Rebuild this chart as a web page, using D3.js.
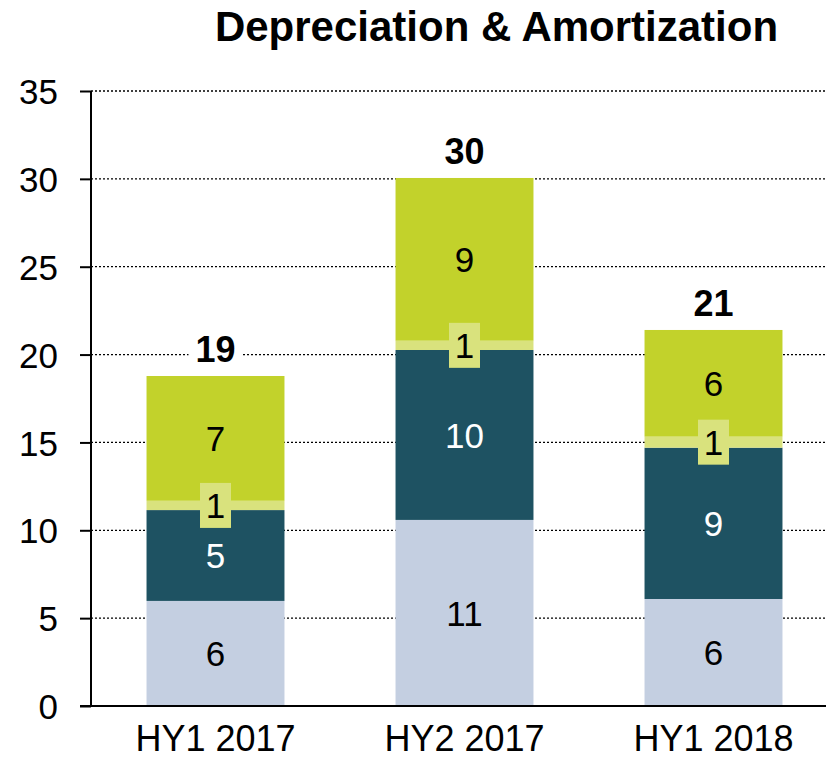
<!DOCTYPE html>
<html><head><meta charset="utf-8">
<script src="https://cdn.jsdelivr.net/npm/d3@7"></script>
<style>body{margin:0;background:#fff}svg{display:block;font-family:"Liberation Sans",Arial,sans-serif}</style>
</head><body><svg id="c" width="826" height="759"></svg>
<script>
const categories = ["HY1 2017", "HY2 2017", "HY1 2018"];
const seriesNames = ["s1", "s2", "s3", "s4"];
const s1Values = [5.98, 10.59, 6.09];
const s2Values = [5.17, 9.67, 8.61];
const s3Values = [0.53, 0.53, 0.63];
const s4Values = [7.10, 9.26, 6.07];
const s1Labels = ["6", "11", "6"];
const s2Labels = ["5", "10", "9"];
const s3Labels = ["1", "1", "1"];
const s4Labels = ["7", "9", "6"];
const totalLabels = ["19", "30", "21"];
const yTicks = [0, 5, 10, 15, 20, 25, 30, 35];
const colors = ["#c4cfe1", "#1e5262", "#d9e27d", "#c2d22b"];
const labelColors = ["#000", "#fff", "#000", "#000"];

const values = [s1Values, s2Values, s3Values, s4Values];
const labels = [s1Labels, s2Labels, s3Labels, s4Labels];
const data = categories.map((c, i) => {
  const o = {cat: c};
  seriesNames.forEach((s, k) => o[s] = values[k][i]);
  return o;
});
const stacked = d3.stack().keys(seriesNames)(data);

const svg = d3.select("#c");
const mLeft = 91, mBottom = 706, mTop = 91;
const x = d3.scaleBand().domain(categories).range([mLeft, mLeft + 3 * 249]).paddingInner(0.446).paddingOuter(0.223);
const y = d3.scaleLinear().domain([0, 35]).range([mBottom, mTop]);

// gridlines
svg.append("g").selectAll("line").data(yTicks.filter(t => t > 0)).join("line")
  .attr("x1", mLeft).attr("x2", 826).attr("y1", d => y(d)).attr("y2", d => y(d))
  .attr("stroke", "#000").attr("stroke-width", 1.3).attr("stroke-dasharray", "2,2");

// bars
const g = svg.append("g");
stacked.forEach((layer, k) => {
  g.selectAll(null).data(layer).join("rect")
    .attr("x", d => x(d.data.cat)).attr("width", x.bandwidth())
    .attr("y", d => y(d[1])).attr("height", d => y(d[0]) - y(d[1]))
    .attr("fill", colors[k]);
});

// axes
const yAxis = svg.append("g").attr("transform", `translate(${mLeft},0)`)
  .call(d3.axisLeft(y).tickValues(yTicks).tickSize(11).tickPadding(22));
yAxis.select(".domain").attr("stroke", "#000").attr("stroke-width", 2).attr("d", `M0,${mBottom}V${mTop}`);
yAxis.selectAll(".tick line").attr("stroke", "#000").attr("stroke-width", 2);
yAxis.selectAll(".tick text").attr("font-size", 35).attr("fill", "#000").attr("font-family", "Liberation Sans, Arial, sans-serif").attr("dy", "0.36em");

const xAxis = svg.append("g").attr("transform", `translate(0,${mBottom})`)
  .call(d3.axisBottom(x).tickSize(0).tickPadding(0));
xAxis.select(".domain").attr("stroke", "#000").attr("stroke-width", 2).attr("d", `M80,0H826`);
xAxis.selectAll(".tick text").attr("font-size", 36).attr("fill", "#000").attr("font-family", "Liberation Sans, Arial, sans-serif").attr("y", 45).attr("dy", null);

// segment labels
const lg = svg.append("g").attr("font-size", 35).attr("text-anchor", "middle");
stacked.forEach((layer, k) => {
  layer.forEach((d, i) => {
    const cx = x(d.data.cat) + x.bandwidth() / 2;
    const cy = (y(d[0]) + y(d[1])) / 2;
    if (k === 2) {
      lg.append("rect").attr("x", cx - 15.5).attr("y", cy - 22.5).attr("width", 31).attr("height", 45).attr("fill", colors[2]);
    }
    lg.append("text").attr("x", cx).attr("y", cy).attr("dy", "0.36em")
      .attr("fill", labelColors[k]).text(labels[k][i]);
  });
});

// totals with white backing
const last = stacked[stacked.length - 1];
const tg = svg.append("g");
last.forEach((d, i) => {
  const cx = x(d.data.cat) + x.bandwidth() / 2;
  const by = y(d[1]) - 14;
  tg.append("rect").attr("x", cx - 27).attr("y", by - 30).attr("width", 54).attr("height", 36).attr("fill", "#fff");
  tg.append("text").attr("x", cx).attr("y", by)
    .attr("text-anchor", "middle").attr("font-size", 36).attr("font-weight", "bold")
    .text(totalLabels[i]);
});

// title
svg.append("text").attr("x", 496.5).attr("y", 41).attr("text-anchor", "middle")
  .attr("font-size", 42).attr("font-weight", "bold").text("Depreciation & Amortization");
</script></body></html>
